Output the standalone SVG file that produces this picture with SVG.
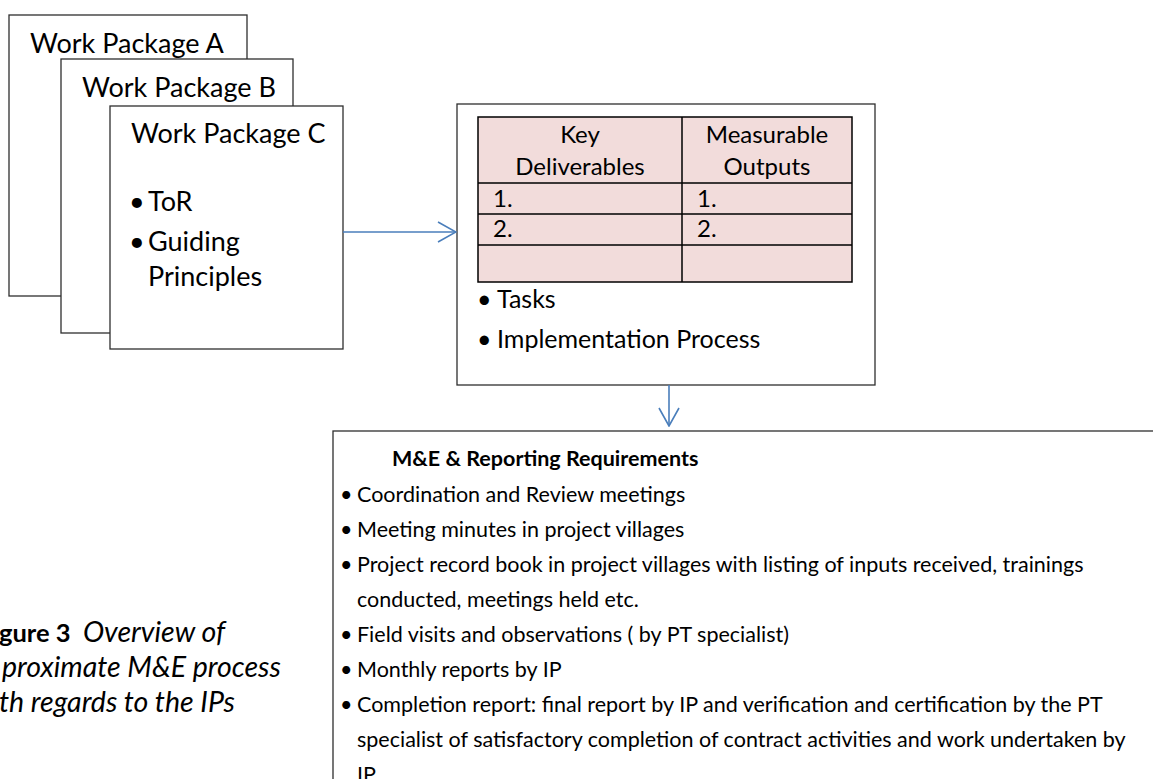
<svg xmlns="http://www.w3.org/2000/svg" width="1153" height="779" viewBox="0 0 1153 779">
  <defs>
    <style>
      .box { fill: #ffffff; stroke: #2e2e2e; stroke-width: 1.3; }
      .cell { fill: #f2dcdb; stroke: #000000; stroke-width: 1.5; }
      .grid { stroke: #000000; stroke-width: 1.5; fill: none; }
      .txt { font-family: Lato, "Liberation Sans", sans-serif; fill: #000000; }
      .wp { font-size: 27px; }
      .mid { font-size: 25px; }
      .tbl { font-size: 24px; }
      .req { font-size: 21.5px; }
      .cap { font-size: 28.5px; }
      .link { stroke: #4a7ebb; stroke-width: 1.6; fill: none; }
    </style>
    <marker id="chevron" viewBox="0 0 20 22" refX="19" refY="11" markerWidth="20" markerHeight="22" markerUnits="userSpaceOnUse" orient="auto">
      <path d="M1,1 L19,11 L1,21" fill="none" stroke="#4a7ebb" stroke-width="1.6"/>
    </marker>
  </defs>

  <!-- stacked work packages -->
  <g id="wp-a">
    <rect class="box" x="9" y="15" width="238" height="281"/>
    <text class="txt wp" x="30" y="53">Work Package A</text>
  </g>
  <g id="wp-b">
    <rect class="box" x="61" y="59" width="232" height="274"/>
    <text class="txt wp" x="82" y="97">Work Package B</text>
  </g>
  <g id="wp-c">
    <rect class="box" x="110" y="106" width="233" height="243"/>
    <text class="txt wp" x="131" y="143">Work Package C</text>
    <text class="txt wp" x="129" y="211">•</text>
    <text class="txt wp" x="148" y="211">ToR</text>
    <text class="txt wp" x="129" y="251">•</text>
    <text class="txt wp" x="148" y="251">Guiding</text>
    <text class="txt wp" x="148" y="286">Principles</text>
  </g>

  <!-- deliverables and outputs -->
  <g id="deliverables">
    <rect class="box" x="457" y="104" width="418" height="281"/>
    <rect class="cell" x="478" y="117" width="374" height="165"/>
    <path class="grid" d="M682,117 V282 M478,183 H852 M478,214 H852 M478,245 H852"/>
    <text class="txt tbl" x="580" y="143" text-anchor="middle">Key</text>
    <text class="txt tbl" x="580" y="175" text-anchor="middle">Deliverables</text>
    <text class="txt tbl" x="767" y="143" text-anchor="middle">Measurable</text>
    <text class="txt tbl" x="767" y="175" text-anchor="middle">Outputs</text>
    <text class="txt tbl" x="493" y="207">1.</text>
    <text class="txt tbl" x="697" y="207">1.</text>
    <text class="txt tbl" x="493" y="237">2.</text>
    <text class="txt tbl" x="697" y="237">2.</text>
    <text class="txt mid" x="477" y="308">•</text>
    <text class="txt mid" x="497" y="308">Tasks</text>
    <text class="txt mid" x="477" y="348">•</text>
    <text class="txt mid" x="497" y="348">Implementation Process</text>
  </g>

  <!-- reporting requirements -->
  <g id="requirements">
    <rect class="box" x="333" y="431" width="840" height="360"/>
    <text class="txt req" x="392" y="466" font-weight="bold">M&amp;E &amp; Reporting Requirements</text>
    <g class="txt req">
      <text x="340" y="502">•</text>
      <text x="357" y="502">Coordination and Review meetings</text>
      <text x="340" y="537">•</text>
      <text x="357" y="537">Meeting minutes in project villages</text>
      <text x="340" y="572">•</text>
      <text x="357" y="572">Project record book in project villages with listing of inputs received, trainings</text>
      <text x="357" y="607">conducted, meetings held etc.</text>
      <text x="340" y="642">•</text>
      <text x="357" y="642">Field visits and observations ( by PT specialist)</text>
      <text x="340" y="677">•</text>
      <text x="357" y="677">Monthly reports by IP</text>
      <text x="340" y="712">•</text>
      <text x="357" y="712">Completion report: final report by IP and verification and certification by the PT</text>
      <text x="357" y="747">specialist of satisfactory completion of contract activities and work undertaken by</text>
      <text x="357" y="782">IP</text>
    </g>
  </g>

  <!-- caption -->
  <g id="caption" class="txt cap">
    <text x="-1" y="642" font-weight="bold" font-size="25.5">gure 3</text>
    <text x="83" y="642" font-style="italic">Overview of</text>
    <text x="2" y="677" font-style="italic">proximate M&amp;E process</text>
    <text x="-1" y="712" font-style="italic">th regards to the IPs</text>
  </g>

  <!-- connectors -->
  <g id="connectors">
    <path class="link" d="M343,232 H456" marker-end="url(#chevron)"/>
    <path class="link" d="M669,385 V426" marker-end="url(#chevron)"/>
  </g>
</svg>
